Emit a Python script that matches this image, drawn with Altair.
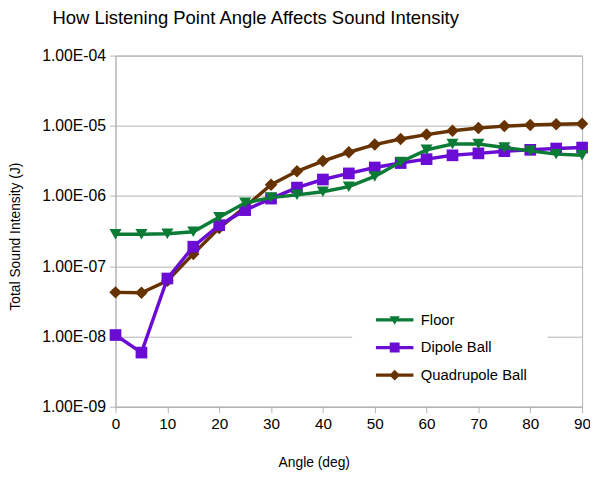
import altair as alt
import pandas as pd

angles = [0, 5, 10, 15, 20, 25, 30, 35, 40, 45, 50, 55, 60, 65, 70, 75, 80, 85, 90]
series_names = ["Floor", "Dipole Ball", "Quadrupole Ball"]
floor = [2.85e-7, 2.85e-7, 2.9e-7, 3.1e-7, 5.0e-7, 8.0e-7, 9.5e-7, 1.04e-6, 1.15e-6,
         1.36e-6, 1.9e-6, 3.05e-6, 4.55e-6, 5.5e-6, 5.5e-6, 4.9e-6, 4.4e-6, 3.95e-6, 3.8e-6]
dipole = [1.05e-8, 5.9e-9, 6.7e-8, 1.9e-7, 3.85e-7, 6.3e-7, 9.2e-7, 1.32e-6, 1.72e-6,
          2.1e-6, 2.55e-6, 2.95e-6, 3.35e-6, 3.8e-6, 4.05e-6, 4.35e-6, 4.55e-6, 4.75e-6, 4.9e-6]
quad = [4.25e-8, 4.2e-8, 6.2e-8, 1.5e-7, 3.5e-7, 7.0e-7, 1.45e-6, 2.25e-6, 3.15e-6,
        4.2e-6, 5.4e-6, 6.5e-6, 7.5e-6, 8.5e-6, 9.3e-6, 9.9e-6, 1.03e-5, 1.05e-5, 1.07e-5]
colors = ["#0b7b36", "#6a0cd4", "#663300"]
shapes = ["triangle-down", "square", "diamond"]
sizes = [150, 140, 160]
x_ticks = [0, 10, 20, 30, 40, 50, 60, 70, 80, 90]
y_ticks = [1e-9, 1e-8, 1e-7, 1e-6, 1e-5, 1e-4]

FONT = "Liberation Sans"

rows = []
for name, vals in zip(series_names, [floor, dipole, quad]):
    for a, v in zip(angles, vals):
        rows.append({"series": name, "angle": a, "intensity": v})
df = pd.DataFrame(rows)

x = alt.X("angle:Q", scale=alt.Scale(domain=[0, 90], nice=False, zero=False),
          axis=alt.Axis(values=x_ticks, title="Angle (deg)", grid=False, labelFlush=False,
                        labelFontSize=15.5, titleX=201, titleY=61, titleBaseline="alphabetic",
                        titleAnchor="start", titleAlign="center"))
y = alt.Y("intensity:Q", scale=alt.Scale(type="log", domain=[1e-9, 1e-4], nice=False),
          axis=alt.Axis(values=y_ticks, title="Total Sound Intensity (J)", grid=True,
                        labelFlush=False, labelFontSize=16,
                        labelExpr="'1.00E-0' + toString(-round(log(datum.value) / LN10))",
                        titleX=-94, titleY=183))

# legend symbols: a line segment with the series marker (path units = 12.5 px)
bar = "M-1.52,-0.136L1.52,-0.136L1.52,0.136L-1.52,0.136Z"
legend_paths = [
    bar + " M-0.42,-0.3L0.42,-0.3L0,0.4Z",
    bar + " M-0.4,-0.4L0.4,-0.4L0.4,0.4L-0.4,0.4Z",
    bar + " M0,-0.44L0.44,0L0,0.44L-0.44,0Z",
]

base = alt.Chart(df).encode(x=x, y=y)

layers = []
for i in [2, 1, 0]:
    name = series_names[i]
    sub = base.transform_filter(alt.datum.series == name)
    layers.append(sub.mark_line(strokeWidth=3.5, color=colors[i]))
    layers.append(sub.mark_point(shape=shapes[i], filled=True, size=sizes[i], opacity=1,
                                 color=colors[i]))

leg = alt.Legend(title=None, orient="none", legendX=240, legendY=235.5, padding=20,
                 fillColor="white", labelFontSize=15, labelFont=FONT, labelColor="black",
                 symbolSize=625, symbolOffset=10.5, labelOffset=14, symbolStrokeWidth=0,
                 symbolOpacity=1, rowPadding=7)
legend_layer = alt.Chart(df).transform_filter("false").mark_point(filled=True, opacity=1).encode(
    x=x, y=y,
    color=alt.Color("series:N", scale=alt.Scale(domain=series_names, range=colors), legend=leg),
    shape=alt.Shape("series:N", scale=alt.Scale(domain=series_names, range=legend_paths),
                    legend=leg),
)

chart = alt.layer(*layers, legend_layer).properties(
    width=473, height=356,
    autosize=alt.AutoSizeParams(type="none"),
    padding={"left": 109, "top": 45, "right": 8, "bottom": 68},
    title=alt.TitleParams(text="How Listening Point Angle Affects Sound Intensity",
                          anchor="start", frame="group", dx=-64, fontSize=18.7, font=FONT,
                          fontWeight="normal", color="black", offset=20),
).configure_view(stroke="#b3b3b3", strokeWidth=1).configure_axis(
    domainColor="#b3b3b3", tickColor="#b3b3b3", gridColor="#b3b3b3", tickSize=6,
    labelColor="black", labelFont=FONT, labelPadding=4, titleFont=FONT, titleFontSize=14,
    titleFontWeight="normal", titleColor="black", labelOverlap=False,
)

chart.save("out.html", embed_options={"renderer": "svg", "actions": False})
